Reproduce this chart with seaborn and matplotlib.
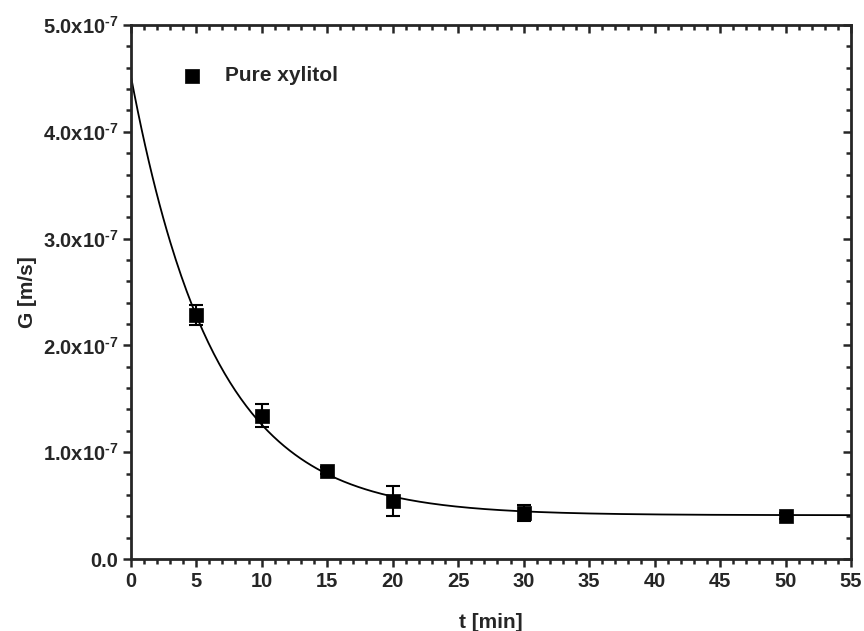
import numpy as np
import pandas as pd
import matplotlib
matplotlib.use("Agg")
import matplotlib.pyplot as plt
import seaborn as sns

# data
t_min = [5, 10, 15, 20, 30, 50]
growth = [2.285e-7, 1.342e-7, 0.827e-7, 0.543e-7, 0.428e-7, 0.405e-7]
growth_err = [0.09e-7, 0.11e-7, 0.035e-7, 0.137e-7, 0.075e-7, 0.03e-7]

# exponential decay fit  G = y0 + A*exp(-t/tau)
fit_y0 = 0.41e-7
fit_A = 4.12e-7
fit_tau = 6.33

x_ticks = [0, 5, 10, 15, 20, 25, 30, 35, 40, 45, 50, 55]
y_ticks = [0, 1e-7, 2e-7, 3e-7, 4e-7, 5e-7]
y_tick_labels = ["0.0", r"1.0x10$^{\text{-}7}$", r"2.0x10$^{\text{-}7}$", r"3.0x10$^{\text{-}7}$",
                 r"4.0x10$^{\text{-}7}$", r"5.0x10$^{\text{-}7}$"]

sns.set_style("ticks")
plt.rcParams["font.family"] = ["Liberation Sans", "DejaVu Sans"]
plt.rcParams["font.weight"] = "bold"
plt.rcParams["mathtext.fontset"] = "custom"
plt.rcParams["mathtext.rm"] = "Liberation Sans:bold"
plt.rcParams["mathtext.it"] = "Liberation Sans:bold"
plt.rcParams["mathtext.bf"] = "Liberation Sans:bold"
plt.rcParams["mathtext.default"] = "rm"

df = pd.DataFrame({"t": t_min, "G": growth, "err": growth_err})
t_fit = np.linspace(0, 55, 400)
fit = pd.DataFrame({"t": t_fit, "G": fit_y0 + fit_A * np.exp(-t_fit / fit_tau)})

fig = plt.figure(figsize=(8.64, 6.31), dpi=100)
ax = fig.add_axes([0.1513, 0.1141, 0.8337, 0.8463])

sns.lineplot(data=fit, x="t", y="G", color="black", linewidth=1.3, ax=ax, legend=False)
ax.errorbar(df["t"], df["G"], yerr=df["err"], fmt="none", ecolor="black",
            elinewidth=1.5, capsize=5, capthick=1.5, zorder=3)
sns.scatterplot(data=df, x="t", y="G", marker="s", s=110, color="black",
                edgecolor="black", linewidth=0.5, label="Pure xylitol", ax=ax, zorder=4)

ax.set_xlim(0, 55)
ax.set_ylim(0, 5e-7)
ax.set_xticks(x_ticks)
ax.set_xticklabels([str(v) for v in x_ticks])
ax.set_yticks(y_ticks)
ax.set_yticklabels(y_tick_labels)
ax.set_xticks(np.arange(0, 55.1, 1), minor=True)
ax.set_yticks(np.arange(0, 5.01e-7, 0.2e-7), minor=True)

for s in ax.spines.values():
    s.set_linewidth(2)
    s.set_visible(True)
ax.tick_params(which="both", direction="out", width=1.8, labelsize=14.5,
               top=True, right=True)
ax.tick_params(which="major", length=6, pad=3)
ax.tick_params(which="minor", length=3.5)
# top and right ticks point inward
for tl in ax.xaxis.get_ticklines(minor=False)[1::2] + ax.xaxis.get_ticklines(minor=True)[1::2]:
    tl.set_marker(3)
for tl in ax.yaxis.get_ticklines(minor=False)[1::2] + ax.yaxis.get_ticklines(minor=True)[1::2]:
    tl.set_marker(0)

ax.set_xlabel("t [min]", fontsize=15, fontweight="bold", labelpad=16)
ax.set_ylabel("G [m/s]", fontsize=15, fontweight="bold", labelpad=4)

leg = ax.legend(loc="upper left", bbox_to_anchor=(0.03, 0.958), frameon=False,
                fontsize=15, handletextpad=0.6, markerscale=1.0)

fig.savefig("out.png", dpi=100)
